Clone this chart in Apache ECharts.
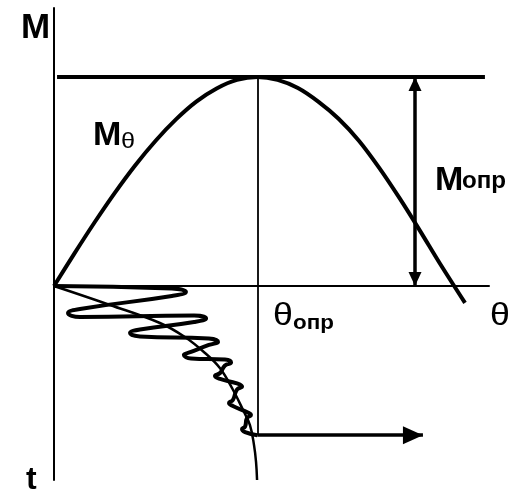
<!DOCTYPE html>
<html>
<head>
<meta charset="utf-8">
<script src="https://cdn.jsdelivr.net/npm/echarts@6/dist/echarts.min.js"></script>
<style>
  html, body { margin: 0; padding: 0; background: #fff; }
  #chart { width: 509px; height: 492px; }
</style>
</head>
<body>
<div id="chart"></div>
<script>
// Moment characteristic M(θ); θ in units of θ_опр, M in units of M_опр
const momentTheta = [0, 0.1, 0.2, 0.3, 0.4, 0.5, 0.6, 0.7, 0.8, 0.9, 1.0, 1.1, 1.2, 1.3, 1.4, 1.5, 1.6, 1.7, 1.8, 1.9, 2.022];
const momentValue = [0, 0.155, 0.305, 0.447, 0.578, 0.695, 0.797, 0.882, 0.945, 0.986, 1.0, 0.986, 0.947, 0.882, 0.80, 0.695, 0.565, 0.42, 0.265, 0.105, -0.081];

// Oscillating transient θ(t): each turning point with the stroke just before and after it
const swingTheta = [0,
  0.580, 0.649, 0.580,
  0.128, 0.069, 0.128,
  0.689, 0.748, 0.689,
  0.423, 0.374, 0.423,
  0.762, 0.807, 0.762,
  0.674, 0.639, 0.674,
  0.841, 0.871, 0.841,
  0.817, 0.792, 0.817,
  0.900, 0.925, 0.900,
  0.880, 0.861, 0.880,
  0.954, 0.969, 0.949,
  0.940, 0.925, 0.940,
  1.0];
const swingTime = [0,
  0.017, 0.040, 0.067,
  0.154, 0.181, 0.208,
  0.198, 0.218, 0.241,
  0.292, 0.315, 0.338,
  0.352, 0.375, 0.395,
  0.442, 0.462, 0.486,
  0.493, 0.513, 0.533,
  0.583, 0.603, 0.623,
  0.653, 0.674, 0.694,
  0.764, 0.784, 0.804,
  0.848, 0.865, 0.885,
  0.942, 0.958, 0.979,
  1.0];

// Averaged (non-oscillating) motion θ(t)
const meanTheta = [0, 0.275, 0.521, 0.644, 0.743, 0.816, 0.881, 0.930, 0.964, 0.984, 0.994, 0.999];
const meanTime  = [0, 0.127, 0.248, 0.342, 0.449, 0.550, 0.697, 0.831, 0.932, 1.066, 1.180, 1.300];

// Limit level and reference positions
const limitLine = [[0.015, 1], [2.12, 1]];
const thetaLimit = 1;
const arrowTheta = 1.776;      // double arrow M_опр
const settleTime = 1;          // time when the swing settles
const settleArrowEnd = 1.815;  // horizontal arrow end

const pairs = (xs, ys) => xs.map((x, i) => [x, ys[i]]);

const FONT = "'Liberation Sans', Arial, Helvetica, sans-serif";
const black = '#000';

function label(text, x, baseline, size, weight, scaleX) {
  return {
    type: 'text',
    x: x,
    y: baseline - 0.3465 * size,
    scaleX: scaleX || 1,
    silent: true,
    style: {
      text: text,
      fill: black,
      fontFamily: FONT,
      fontSize: size,
      fontWeight: weight,
      align: 'left',
      verticalAlign: 'middle'
    }
  };
}

const axisLine = { show: true, onZero: false, lineStyle: { color: black, width: 2 } };
const hiddenBits = {
  axisTick: { show: false },
  axisLabel: { show: false },
  splitLine: { show: false }
};

const chart = echarts.init(document.getElementById('chart'), null, { renderer: 'canvas' });

chart.setOption({
  animation: false,
  backgroundColor: '#fff',
  grid: [
    { left: 54, top: 8, width: 435, height: 278 },
    { left: 54, top: 286, width: 435, height: 194 }
  ],
  xAxis: [
    Object.assign({ gridIndex: 0, type: 'value', min: 0, max: 2.14, position: 'bottom', axisLine: axisLine }, hiddenBits),
    Object.assign({ gridIndex: 1, type: 'value', min: 0, max: 2.14, show: false }, hiddenBits)
  ],
  yAxis: [
    Object.assign({ gridIndex: 0, type: 'value', min: 0, max: 1.33, position: 'left', axisLine: axisLine }, hiddenBits),
    Object.assign({ gridIndex: 1, type: 'value', min: 0, max: 1.3, inverse: true, position: 'left', axisLine: axisLine }, hiddenBits)
  ],
  series: [
    {
      name: 'M(θ)',
      type: 'line',
      xAxisIndex: 0, yAxisIndex: 0,
      data: pairs(momentTheta, momentValue),
      smooth: 0.3,
      showSymbol: false,
      clip: false,
      silent: true,
      lineStyle: { color: black, width: 4 }
    },
    {
      name: 'M опр',
      type: 'line',
      xAxisIndex: 0, yAxisIndex: 0,
      data: limitLine,
      showSymbol: false,
      silent: true,
      lineStyle: { color: black, width: 4 },
      markLine: {
        silent: true,
        animation: false,
        label: { show: false },
        emphasis: { disabled: true },
        data: [
          [
            { coord: [thetaLimit, 0], symbol: 'none', lineStyle: { color: black, width: 1.8, type: 'solid' } },
            { coord: [thetaLimit, 1], symbol: 'none' }
          ],
          [
            { coord: [arrowTheta, 0], symbol: 'triangle', symbolSize: [13, 14], symbolOffset: [0, '50%'], lineStyle: { color: black, width: 3.5, type: 'solid' } },
            { coord: [arrowTheta, 1], symbol: 'triangle', symbolSize: [13, 14], symbolOffset: [0, '50%'] }
          ]
        ]
      }
    },
    {
      name: 'θ(t) mean',
      type: 'line',
      xAxisIndex: 1, yAxisIndex: 1,
      data: pairs(meanTheta, meanTime),
      smooth: 0.4,
      showSymbol: false,
      silent: true,
      lineStyle: { color: black, width: 2.5 },
      markLine: {
        silent: true,
        animation: false,
        label: { show: false },
        emphasis: { disabled: true },
        data: [
          [
            { coord: [thetaLimit, 0], symbol: 'none', lineStyle: { color: black, width: 1.8, type: 'solid' } },
            { coord: [thetaLimit, settleTime], symbol: 'none' }
          ],
          [
            { coord: [thetaLimit, settleTime], symbol: 'none', lineStyle: { color: black, width: 3.5, type: 'solid' } },
            { coord: [settleArrowEnd, settleTime], symbol: 'triangle', symbolSize: [18, 20], symbolOffset: [0, '50%'] }
          ]
        ]
      }
    },
    {
      name: 'θ(t)',
      type: 'line',
      xAxisIndex: 1, yAxisIndex: 1,
      data: pairs(swingTheta, swingTime),
      smooth: 0.5,
      showSymbol: false,
      silent: true,
      lineStyle: { color: black, width: 4 }
    }
  ],
  graphic: [
    label('M', 21, 40, 35, 'bold'),
    label('t', 26, 491, 32, 'bold'),
    label('θ', 490, 327, 31, 'normal', 1.15),
    label('M', 93, 147, 34, 'bold'),
    label('θ', 121, 150, 22, 'normal', 1.15),
    label('M', 435, 192, 34, 'bold'),
    label('опр', 462, 190, 23, 'bold', 1.05),
    label('θ', 273, 327, 31, 'normal', 1.15),
    label('опр', 293, 330, 20, 'bold', 1.12)
  ]
});
</script>
</body>
</html>
